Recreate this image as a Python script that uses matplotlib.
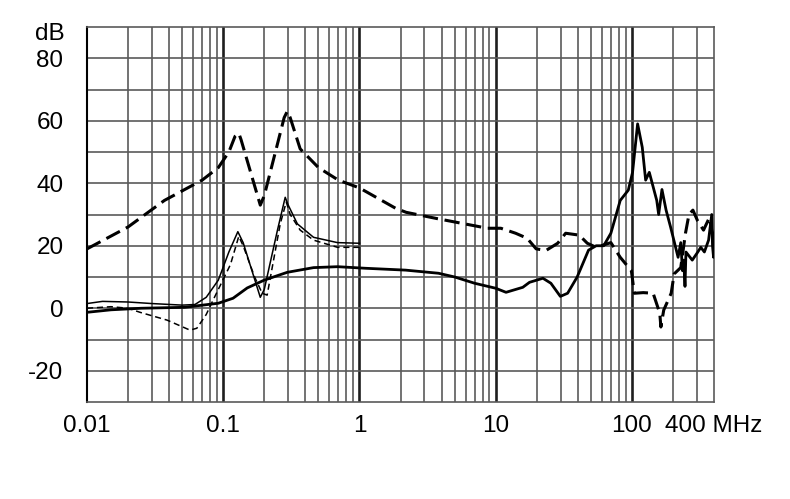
import numpy as np
import matplotlib
matplotlib.use("Agg")
import matplotlib.pyplot as plt

plt.rcParams["font.family"] = ["Liberation Sans", "DejaVu Sans"]

# long dashed curve (thick)
f_a = [0.01, 0.02, 0.037, 0.07, 0.092, 0.11, 0.122, 0.13, 0.135, 0.187, 0.2, 0.28, 0.295, 0.31,
       0.367, 0.5, 0.7, 1.0, 1.84, 2.2, 3.7, 8.7, 10.9, 14, 17, 19.8, 23.4, 28.5, 32.6, 41, 47,
       54.6, 70, 82, 99, 104, 121, 143, 160, 163, 171, 194, 204, 228, 247, 262, 280, 303, 335,
       370, 397]
db_a = [19, 26, 34.5, 41, 45, 50, 55, 56, 54, 33, 36, 61, 63, 61,
        51, 45, 41, 38.5, 32, 30.7, 28.7, 25.6, 25.6, 24, 22.4, 19, 18.5, 20.8, 24, 23.4, 20.8,
        19.5, 21, 16.3, 12, 4.8, 5, 4.8, -1.6, -6, -0.6, 4.8, 11, 13, 24, 30, 31.4, 28, 25,
        29, 22]

# thin solid curve
f_b = [0.01, 0.013, 0.02, 0.03, 0.05, 0.062, 0.075, 0.092, 0.11, 0.128, 0.14, 0.187, 0.2,
       0.25, 0.285, 0.3, 0.35, 0.46, 0.69, 1.0]
db_b = [1.5, 2.2, 2.0, 1.5, 1.0, 1.2, 3.5, 9, 18, 24.5, 21, 3.5, 6,
        25, 35.5, 33, 27, 22.7, 21, 20.8]

# thin dashed curve
f_c = [0.01, 0.015, 0.02, 0.0245, 0.0387, 0.057, 0.064, 0.075, 0.084, 0.113, 0.13, 0.14,
       0.17, 0.193, 0.21, 0.262, 0.29, 0.31, 0.367, 0.46, 0.69, 1.0]
db_c = [0, 0.5, 0, -1.3, -3.8, -7, -6.4, -2, 2.5, 14, 23, 20,
        10, 4.8, 4.2, 27, 34, 30, 25, 21.8, 19.5, 19.5]

# thick solid curve
f_d = [0.01, 0.015, 0.025, 0.052, 0.092, 0.118, 0.15, 0.2, 0.295, 0.46, 0.69, 1.1, 2.18,
       3.8, 5, 7, 10, 11.9, 15.8, 17.7, 22.2, 25.4, 29.8, 33.7, 39.6, 48, 54.6, 62, 70, 82,
       94, 101, 110, 119, 126, 134, 152, 157, 166, 178, 192, 205, 218, 228, 235, 240, 245,
       249, 277, 300, 320, 340, 365, 385, 390, 397, 400]
db_d = [-1.3, -0.5, 0, 0.3, 1.6, 3.2, 6.5, 9, 11.5, 13, 13.3, 12.8, 12.2,
        11.2, 10, 8, 6.4, 5.1, 6.7, 8.3, 9.6, 8, 3.8, 4.8, 10, 18.6, 20, 20, 24, 34.5,
        37.8, 43.5, 59, 51.5, 41, 43.5, 34.5, 30, 38, 31.4, 26, 21, 16.3, 21, 12, 15.4, 7,
        18, 15.4, 17.6, 19.5, 18, 21.8, 30, 20, 16.3, 24]

fig = plt.figure(figsize=(7.9, 4.99), dpi=100)
ax = fig.add_axes([87 / 790, 1 - 402 / 499, 627 / 790, 375 / 499])
ax.set_xscale("log")
ax.set_xlim(0.01, 400)
ax.set_ylim(-30, 90)

# grid
minor = []
for dec in [0.01, 0.1, 1, 10]:
    minor += [dec * k for k in range(2, 10)]
minor += [200, 300]
for x in minor:
    ax.axvline(x, color="#5a5a5a", lw=1.2, zorder=1)
for x in [0.1, 1, 10, 100]:
    ax.axvline(x, color="#1e1e1e", lw=1.9, zorder=1)
for y in range(-20, 90, 10):
    ax.axhline(y, color="#5a5a5a", lw=1.2, zorder=1)

ax.plot(f_a, db_a, color="black", lw=2.2, dashes=(5, 2.2), zorder=3)
ax.plot(f_b, db_b, color="black", lw=1.1, zorder=3)
ax.plot(f_c, db_c, color="black", lw=1.1, dashes=(4, 2.5), zorder=3)
ax.plot(f_d, db_d, color="black", lw=2.0, zorder=3)

for side in ["top", "right", "bottom"]:
    ax.spines[side].set_color("#5a5a5a")
    ax.spines[side].set_linewidth(1.2)
ax.spines["left"].set_color("black")
ax.spines["left"].set_linewidth(1.5)

ax.set_xticks([0.01, 0.1, 1, 10, 100, 400])
ax.set_xticklabels(["0.01", "0.1", "1", "10", "100", "400 MHz"])
ax.set_xticks([], minor=True)
ax.set_yticks([-20, 0, 20, 40, 60, 80])
ax.set_yticklabels(["-20", "0", "20", "40", "60", "80"])
ax.tick_params(axis="both", length=0, labelsize=17.5)
ax.tick_params(axis="x", pad=9)
ax.tick_params(axis="y", pad=17)

fig.text(65 / 790, 1 - 34 / 499, "dB", ha="right", va="center", fontsize=17.5)

fig.savefig("out.png", dpi=100)
